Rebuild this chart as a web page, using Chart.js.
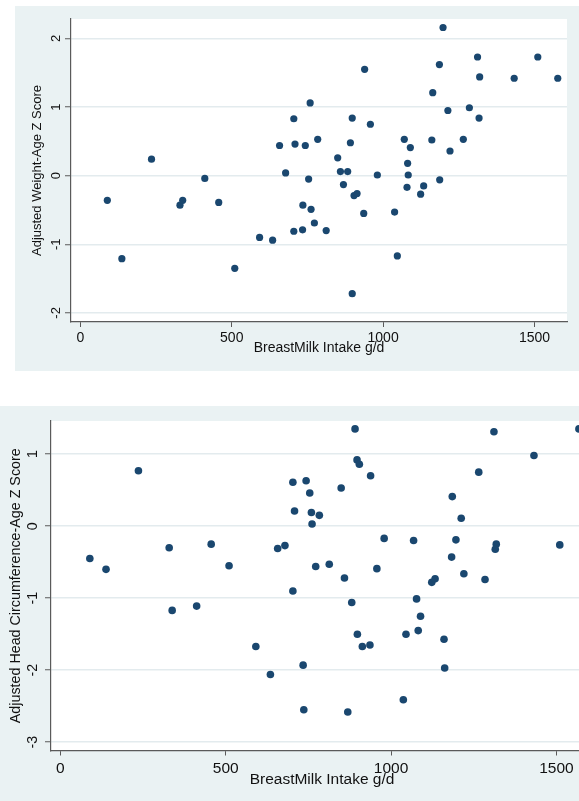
<!DOCTYPE html>
<html>
<head>
<meta charset="utf-8">
<script src="https://cdn.jsdelivr.net/npm/chart.js@4.4.1/dist/chart.umd.min.js"></script>
<style>
  html, body { margin: 0; padding: 0; background: #fff; overflow: hidden; width: 579px; height: 801px; }
  .painel { position: absolute; background: #eaf2f3; overflow: hidden; }
  .painel canvas { display: block; }
  #painel-peso { left: 15px; top: 6px; width: 564px; height: 365px; }
  #painel-cabeca { left: 0; top: 406px; width: 605px; height: 395px; }
</style>
</head>
<body>
<div class="painel" id="painel-peso"><canvas id="chart-peso" width="564" height="365"></canvas></div>
<div class="painel" id="painel-cabeca"><canvas id="chart-cabeca" width="605" height="395"></canvas></div>
<script>
// Tick labels
const xTicks = [0, 500, 1000, 1500];
const weightTicks = [-2, -1, 0, 1, 2];
const headTicks = [-3, -2, -1, 0, 1];

// Top panel: breast milk intake (g/d) vs adjusted weight-for-age z
const intakeW = [89, 137, 235, 329, 338, 411, 457, 510, 592, 635, 658, 678,
  705, 709, 705, 735, 734, 743, 754, 759, 762, 773, 784, 812,
  850, 859, 883, 869, 892, 898, 898, 904, 914, 939, 936, 958, 981,
  1038, 1047, 1070, 1090, 1081, 1083, 1079, 1124, 1134, 1161, 1164,
  1186, 1198, 1187, 1214, 1221, 1265, 1285, 1312, 1319, 1317, 1433, 1511, 1577];
const weightZ = [-0.36, -1.21, 0.24, -0.43, -0.36, -0.04, -0.39, -1.35, -0.90, -0.94, 0.44, 0.04,
  0.83, 0.46, -0.81, -0.43, -0.79, 0.44, -0.05, 1.06, -0.49, -0.69, 0.53, -0.80,
  0.26, 0.06, 0.06, -0.13, 0.48, 0.84, -1.72, -0.29, -0.26, 1.55, -0.55, 0.75, 0.01,
  -0.53, -1.17, 0.53, 0.41, 0.18, 0.01, -0.17, -0.27, -0.15, 0.52, 1.21,
  1.62, 2.16, -0.06, 0.95, 0.36, 0.53, 0.99, 1.73, 1.44, 0.84, 1.42, 1.73, 1.42];

// Bottom panel: breast milk intake (g/d) vs adjusted head circumference-for-age z
const intakeH = [89, 138, 236, 329, 338, 412, 456, 510, 591, 635, 657, 679,
  703, 708, 703, 743, 754, 759, 761, 783, 734, 736, 772, 813,
  849, 859, 869, 881, 891, 897, 904, 938, 898, 913, 936, 957, 979,
  1037, 1068, 1045, 1077, 1089, 1082, 1123, 1133, 1160, 1162,
  1183, 1185, 1196, 1212, 1220, 1265, 1284, 1311, 1318, 1315, 1432, 1510, 1568];
const headZ = [-0.45, -0.60, 0.77, -0.30, -1.17, -1.11, -0.25, -0.55, -1.67, -2.06, -0.31, -0.27,
  0.61, 0.21, -0.90, 0.63, 0.46, 0.19, 0.03, 0.15, -1.93, -2.55, -0.56, -0.53,
  0.53, -0.72, -2.58, -1.06, 1.35, 0.92, 0.86, 0.70, -1.50, -1.67, -1.65, -0.59, -0.17,
  -2.41, -0.20, -1.50, -1.01, -1.25, -1.45, -0.78, -0.73, -1.57, -1.97,
  -0.43, 0.41, -0.19, 0.11, -0.66, 0.75, -0.74, 1.31, -0.25, -0.32, 0.98, -0.26, 1.35];

const FONT = "'Liberation Sans', Arial, sans-serif";
const MARKER = '#1a476f';
const AXIS = '#5a5a5a';
const GRID = '#e3ebee';
const TEXT = '#111';

// white plot region like Stata's plotregion
const plotBg = {
  id: 'plotBg',
  beforeDraw(chart) {
    const { ctx, chartArea: a } = chart;
    ctx.save();
    ctx.fillStyle = '#fff';
    ctx.fillRect(a.left, a.top, a.right - a.left, a.bottom - a.top);
    ctx.restore();
  }
};

function makeScatter(id, cfg) {
  const ctx = document.getElementById(id).getContext('2d');
  return new Chart(ctx, {
    type: 'scatter',
    data: {
      datasets: [{
        data: cfg.x.map((v, i) => ({ x: v, y: cfg.y[i] })),
        backgroundColor: MARKER,
        borderWidth: 0,
        pointRadius: cfg.r,
        clip: false
      }]
    },
    options: {
      responsive: false,
      animation: false,
      events: [],
      layout: { padding: { top: cfg.padTop, right: 12, left: 0, bottom: 0 } },
      plugins: { legend: { display: false }, tooltip: { enabled: false } },
      scales: {
        x: {
          type: 'linear',
          min: cfg.xMin,
          max: cfg.xMax,
          afterBuildTicks: s => { s.ticks = xTicks.map(v => ({ value: v })); },
          afterFit: s => { s.height = cfg.xH; },
          grid: { drawOnChartArea: false, drawTicks: true, tickLength: 5, tickColor: AXIS, tickWidth: 1 },
          border: { color: AXIS, width: 1.2 },
          ticks: { autoSkip: false, maxRotation: 0, padding: cfg.xPad, color: TEXT,
            font: { family: FONT, size: cfg.xFont },
            callback: v => String(v) },
          title: { display: true, text: 'BreastMilk Intake g/d', color: TEXT,
            font: { family: FONT, size: cfg.xFont },
            padding: { top: 0, bottom: cfg.xTitlePad } }
        },
        y: {
          type: 'linear',
          min: cfg.yMin,
          max: cfg.yMax,
          afterBuildTicks: s => { s.ticks = cfg.yTicks.map(v => ({ value: v })); },
          afterFit: s => { s.width = cfg.yW; },
          grid: { color: GRID, lineWidth: 1.5, drawTicks: true, tickLength: 6, tickColor: AXIS, tickWidth: 1 },
          border: { color: AXIS, width: 1.2 },
          ticks: { autoSkip: false, minRotation: 90, maxRotation: 90, crossAlign: 'center',
            padding: cfg.yPad, color: TEXT, font: { family: FONT, size: cfg.yFont },
            callback: v => String(v) },
          title: { display: true, text: cfg.yTitle, color: TEXT,
            font: { family: FONT, size: cfg.yFont },
            padding: { top: cfg.yTitlePad, bottom: 0 } }
        }
      }
    },
    plugins: [plotBg]
  });
}

// 1. Weight-for-age
makeScatter('chart-peso', {
  x: intakeW, y: weightZ, yTicks: weightTicks, r: 3.6,
  xMin: -31, xMax: 1607.5, yMin: -2.133, yMax: 2.284,
  padTop: 13, xH: 49, yW: 56,
  xFont: 14, xPad: 2.5, xTitlePad: 14.6,
  yFont: 13, yPad: 3, yTitlePad: 14.2,
  yTitle: 'Adjusted Weight-Age Z Score'
});

// 2. Head circumference-for-age
makeScatter('chart-cabeca', {
  x: intakeH, y: headZ, yTicks: headTicks, r: 3.8,
  xMin: -28.4, xMax: 1610.5, yMin: -3.115, yMax: 1.46,
  padTop: 15, xH: 50.5, yW: 51,
  xFont: 15.5, xPad: 4.3, xTitlePad: 11.7,
  yFont: 14.3, yPad: 5.8, yTitlePad: 7.4,
  yTitle: 'Adjusted Head Circumference-Age Z Score'
});
</script>
</body>
</html>
